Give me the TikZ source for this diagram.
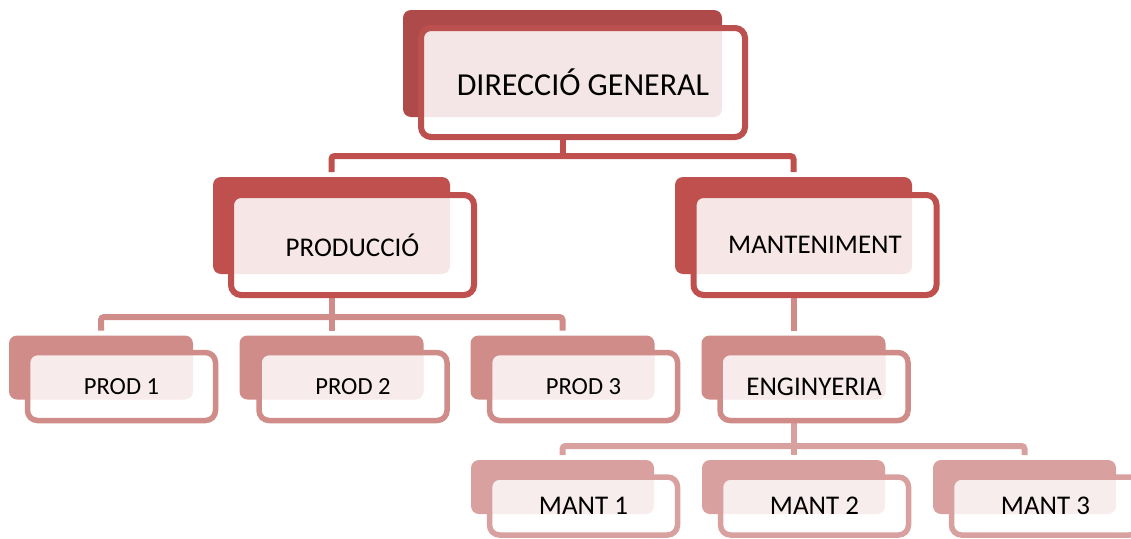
\documentclass[tikz,border=0pt]{standalone}
\usepackage{fontspec}
\setmainfont{Carlito}
\usepackage{tikz}
\usetikzlibrary{positioning,backgrounds}
\definecolor{toneA}{HTML}{AF4A4A}
\definecolor{lineA}{HTML}{BC504E}
\definecolor{toneB}{HTML}{C0504D}
\definecolor{toneC}{HTML}{D08C89}
\definecolor{toneD}{HTML}{D8A19F}

\begin{document}
\begin{tikzpicture}[
  x=1pt, y=-1pt,
  bk/.style={fill=#1, draw=none, rounded corners=8pt, inner sep=0pt, outer sep=0pt},
  bkA/.style={bk=toneA, minimum width=319pt, minimum height=107pt},
  bkB/.style={bk=toneB, minimum width=237pt, minimum height=97pt},
  bkC/.style={bk=toneC, minimum width=184pt, minimum height=64pt},
  bkD/.style={bk=toneD, minimum width=183pt, minimum height=54pt},
  card/.style={fill=white, rounded corners=10pt, inner sep=0pt, outer sep=0pt, text=black},
  cardA/.style={card, draw=lineA, line width=6pt, minimum width=324pt, minimum height=109pt,
    font=\fontsize{32}{38}\selectfont,
    path picture={\fill[toneA!14, rounded corners=8pt] (#1.north west) rectangle (#1.south east);}},
  cardB/.style={card, draw=toneB, line width=6pt, minimum width=243pt, minimum height=100pt,
    font=\fontsize{27}{32}\selectfont,
    path picture={\fill[toneB!14, rounded corners=8pt] (#1.north west) rectangle (#1.south east);}},
  cardC/.style={card, draw=toneC, line width=5.5pt, minimum width=188pt, minimum height=68pt,
    font=\fontsize{24.6}{29}\selectfont,
    path picture={\fill[toneC!17, rounded corners=8pt] (#1.north west) rectangle (#1.south east);}},
  cardD/.style={card, draw=toneD, line width=5.5pt, minimum width=188pt, minimum height=58pt,
    font=\fontsize{27}{32}\selectfont,
    path picture={\fill[toneD!19, rounded corners=8pt] (#1.north west) rectangle (#1.south east);}},
  link/.style={draw=#1, line width=6pt, rounded corners=3pt},
  ]
  \useasboundingbox (0,0) rectangle (1131,538);
  \clip (0,0) rectangle (1131,538);

  % top
  \node[bkA] (dirbk) at (562.5,63.5) {};
  \node[cardA=dirbk] (dir) at (583,82.5) {DIRECCIÓ GENERAL};

  % second row
  \node[bkB] (prodbk) at (331.5,225.5) {};
  \node[cardB=prodbk] (prod) at (352.5,245) {PRODUCCIÓ};
  \node[bkB] (mantbk) at (793.5,225.5) {};
  \node[cardB=mantbk] (mant) at (815,245) {MANTENIMENT};

  % third row
  \node[bkC] (p1bk) at (101,367.5) {};
  \node[cardC=p1bk] (p1) at (121.5,386.5) {PROD 1};
  \node[bkC] (p2bk) at (331.5,367.5) {};
  \node[cardC=p2bk] (p2) at (353,386.5) {PROD 2};
  \node[bkC] (p3bk) at (562.5,367.5) {};
  \node[cardC=p3bk] (p3) at (583.5,386.5) {PROD 3};
  \node[bkC] (engbk) at (793.5,367.5) {};
  \node[cardC=engbk, font=\fontsize{27}{32}\selectfont] (eng) at (814,386.5) {ENGINYERIA};

  % bottom row
  \node[bkD] (m1bk) at (562.5,487) {};
  \node[cardD=m1bk] (m1) at (583.5,506) {MANT 1};
  \node[bkD] (m2bk) at (793.5,487) {};
  \node[cardD=m2bk] (m2) at (814.5,506) {MANT 2};
  \node[bkD] (m3bk) at (1024.5,487) {};
  \node[cardD=m3bk] (m3) at (1045.5,506) {MANT 3};

  % connectors under the boxes
  \coordinate (busA) at (0,156);
  \coordinate (busB) at (0,317);
  \coordinate (busC) at (0,446);
  \begin{scope}[on background layer]
    \draw[link=toneB] (dir.south -| dirbk) -- (dirbk |- busA);
    \draw[link=toneB] ([yshift=5pt]prodbk.north) |- (busA -| mantbk) -- ([yshift=5pt]mantbk.north);
    \draw[link=toneC] (prod.south -| prodbk) -- (prodbk |- busB);
    \draw[link=toneC] ([yshift=5pt]p1bk.north) |- (busB -| p3bk) -- ([yshift=5pt]p3bk.north);
    \draw[link=toneC] (busB -| p2bk) -- ([yshift=5pt]p2bk.north);
    \draw[link=toneC] (mant.south -| mantbk) -- ([yshift=5pt]engbk.north);
    \draw[link=toneD] (eng.south -| engbk) -- (engbk |- busC);
    \draw[link=toneD] ([yshift=5pt]m1bk.north) |- (busC -| m3bk) -- ([yshift=5pt]m3bk.north);
    \draw[link=toneD] (busC -| m2bk) -- ([yshift=5pt]m2bk.north);
  \end{scope}
\end{tikzpicture}
\end{document}
